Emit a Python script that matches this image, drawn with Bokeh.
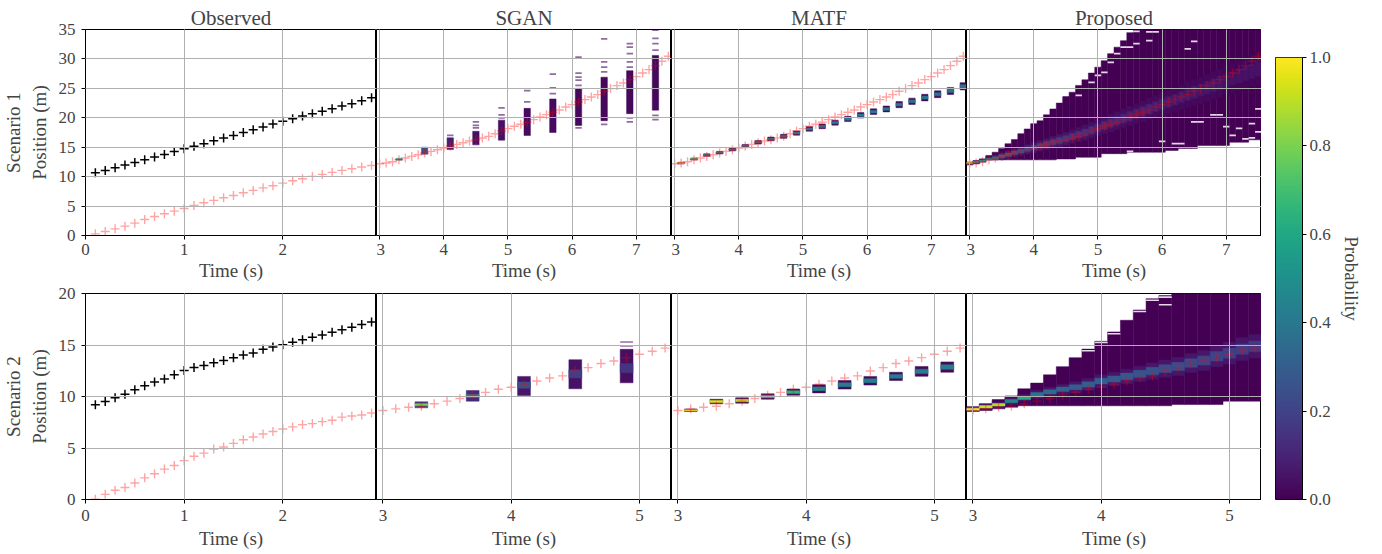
import numpy as np
from bokeh.plotting import figure
from bokeh.models import (ColumnDataSource, Range1d, FixedTicker, LinearColorMapper,
                          PrintfTickFormatter)
from bokeh.layouts import row, column
from bokeh.palettes import Viridis256
from bokeh.embed import file_html
from bokeh.resources import INLINE

FONT = "Liberation Serif"

titles = ["Observed", "SGAN", "MATF", "Proposed"]
row_labels = ["Scenario 1\nPosition (m)", "Scenario 2\nPosition (m)"]
x_label = "Time (s)"
cbar_label = "Probability"

# ---------------- time stamps ----------------
obs_t = [0.1, 0.2, 0.3, 0.4, 0.5, 0.6, 0.7, 0.8, 0.9, 1.0, 1.1, 1.2, 1.3, 1.4, 1.5,
         1.6, 1.7, 1.8, 1.9, 2.0, 2.1, 2.2, 2.3, 2.4, 2.5, 2.6, 2.7, 2.8, 2.9]
fut1_t = [3.0, 3.1, 3.2, 3.3, 3.4, 3.5, 3.6, 3.7, 3.8, 3.9, 4.0, 4.1, 4.2, 4.3, 4.4,
          4.5, 4.6, 4.7, 4.8, 4.9, 5.0, 5.1, 5.2, 5.3, 5.4, 5.5, 5.6, 5.7, 5.8, 5.9,
          6.0, 6.1, 6.2, 6.3, 6.4, 6.5, 6.6, 6.7, 6.8, 6.9, 7.0, 7.1, 7.2, 7.3, 7.4, 7.5]
fut2_t = [3.0, 3.1, 3.2, 3.3, 3.4, 3.5, 3.6, 3.7, 3.8, 3.9, 4.0, 4.1, 4.2, 4.3, 4.4,
          4.5, 4.6, 4.7, 4.8, 4.9, 5.0, 5.1, 5.2]

# ---------------- Scenario 1 ----------------
s1_agent = [10.66, 11.06, 11.51, 11.97, 12.42, 12.88, 13.33, 13.78, 14.29, 14.75, 15.15,
            15.6, 16.1, 16.56, 17.0, 17.5, 17.98, 18.43, 18.94, 19.4, 19.85, 20.3, 20.7,
            21.1, 21.55, 22.0, 22.4, 22.9, 23.4]
s1_target_obs = [0.28, 0.68, 1.13, 1.59, 2.1, 2.72, 3.23, 3.69, 4.14, 4.6, 5.1, 5.56, 5.96,
                 6.41, 6.8, 7.26, 7.66, 8.1, 8.45, 8.9, 9.3, 9.64, 10.04, 10.38, 10.72,
                 11.06, 11.34, 11.63, 11.9]
s1_target_fut = [12.2, 12.31, 12.54, 12.88, 13.16, 13.44, 13.73, 14.01, 14.29, 14.58,
                 14.86, 15.2, 15.48, 15.77, 16.05, 16.28, 16.56, 16.85, 17.3, 17.75,
                 18.15, 18.55, 18.89, 19.23, 19.68, 20.14, 20.53, 20.93, 21.33, 21.84,
                 22.24, 22.69, 23.09, 23.54, 23.94, 24.5, 24.96, 25.47, 25.92, 26.49,
                 27.0, 27.62, 28.19, 28.87, 29.6, 30.46]

# SGAN scenario 1: dense block per sample time + scattered samples
sgan1_t = [3.3, 3.7, 4.1, 4.5, 4.9, 5.3, 5.7, 6.1, 6.5, 6.9, 7.3]
sgan1_lo = [12.8, 13.8, 14.6, 15.4, 16.2, 17.0, 17.5, 18.7, 19.5, 20.7, 21.3]
sgan1_hi = [13.1, 15.0, 16.6, 17.7, 19.6, 21.6, 23.2, 25.0, 26.9, 28.0, 30.6]
sgan1_v = [0.5, 0.25, 0.08, 0.05, 0.04, 0.03, 0.03, 0.02, 0.02, 0.02, 0.02]
sgan1_out_t = [4.1, 4.5, 4.5, 4.5, 4.9, 4.9, 4.9, 5.3, 5.3, 5.7, 5.7, 5.7,
               6.1, 6.1, 6.1, 6.1, 6.1, 6.1, 6.5, 6.5, 6.5, 6.5, 6.5,
               6.9, 6.9, 6.9, 6.9, 6.9, 6.9, 6.9, 7.3, 7.3, 7.3, 7.3, 7.3, 7.3]
sgan1_out_y = [17.0, 18.3, 18.7, 19.3, 20.0, 20.5, 21.7, 22.7, 24.6, 24.1, 25.1, 27.4,
               18.3, 25.5, 26.4, 26.9, 27.6, 30.3, 18.9, 27.8, 28.6, 29.5, 33.4,
               19.3, 20.0, 28.6, 29.5, 30.9, 32.0, 32.6, 19.7, 20.4, 31.5, 32.6, 33.5, 34.9]

# MATF scenario 1
matf1_t = [3.1, 3.3, 3.5, 3.7, 3.9, 4.1, 4.3, 4.5, 4.7, 4.9, 5.1, 5.3, 5.5, 5.7, 5.9,
           6.1, 6.3, 6.5, 6.7, 6.9, 7.1, 7.3, 7.5]
matf1_c = [12.3, 13.0, 13.67, 14.07, 14.63, 15.2, 15.83, 16.4, 16.85, 17.41, 18.1, 18.55,
           19.17, 19.8, 20.42, 21.04, 21.5, 22.24, 22.8, 23.43, 24.0, 24.56, 25.35]
matf1_h = [0.15, 0.18, 0.2, 0.22, 0.25, 0.27, 0.3, 0.32, 0.34, 0.36, 0.38, 0.4, 0.42,
           0.44, 0.46, 0.48, 0.5, 0.52, 0.54, 0.56, 0.58, 0.6, 0.62]
matf1_v = [1.0, 0.75, 0.5, 0.45, 0.45, 0.45, 0.45, 0.45, 0.45, 0.42, 0.42, 0.4, 0.4,
           0.4, 0.4, 0.4, 0.4, 0.4, 0.38, 0.38, 0.38, 0.38, 0.38]

# Proposed scenario 1 (per 0.1 s column)
prop1_lo = [12.0, 12.2, 12.5, 12.85, 12.85, 12.85, 12.85, 12.85, 12.85, 12.85, 12.85,
            12.85, 12.85, 12.85, 13.0, 13.0, 13.0, 13.3, 13.3, 13.3, 13.3, 13.9, 13.9,
            13.9, 13.9, 14.15, 14.15, 14.15, 14.15, 14.15, 14.15, 14.45, 14.45, 14.8,
            14.8, 14.8, 15.3, 15.3, 15.3, 15.3, 15.3, 15.85, 15.85, 15.85, 16.25, 16.25]
prop1_hi = [12.45, 12.7, 13.0, 13.6, 14.15, 14.8, 15.6, 16.3, 17.3, 18.1, 19.0, 19.5,
            20.5, 21.5, 22.5, 23.6, 24.35, 25.5, 26.45, 27.6, 28.6, 29.7, 30.9, 32.0,
            33.1, 34.5, 35.5, 35.5, 35.5, 35.5, 35.5, 35.5, 35.5, 35.5, 35.5, 35.5, 35.5,
            35.5, 35.5, 35.5, 35.5, 35.5, 35.5, 35.5, 35.5, 35.5]
prop1_core_c = [12.3, 12.45, 12.65, 12.9, 13.15, 13.45, 13.75, 14.05, 14.35, 14.65,
                14.95, 15.25, 15.55, 15.85, 16.15, 16.45, 16.8, 17.15, 17.5, 17.9,
                18.3, 18.7, 19.1, 19.5, 19.9, 20.3, 20.7, 21.1, 21.5, 21.9,
                22.3, 22.7, 23.1, 23.5, 23.9, 24.3, 24.7, 25.1, 25.5, 25.9,
                26.3, 26.7, 27.1, 27.5, 27.9, 28.3]
prop1_core_w = [0.12, 0.15, 0.18, 0.2, 0.22, 0.25, 0.28, 0.3, 0.32, 0.35,
                0.38, 0.4, 0.42, 0.45, 0.48, 0.5, 0.52, 0.55, 0.58, 0.6,
                0.62, 0.65, 0.68, 0.7, 0.72, 0.75, 0.78, 0.8, 0.82, 0.85,
                0.88, 0.9, 0.92, 0.95, 0.98, 1.0, 1.02, 1.05, 1.08, 1.1,
                1.12, 1.15, 1.18, 1.2, 1.22, 1.25]
prop1_core_v = [0.95, 0.55, 0.5, 0.55, 0.4, 0.33, 0.3, 0.27, 0.25, 0.23,
                0.21, 0.2, 0.19, 0.18, 0.17, 0.16, 0.15, 0.14, 0.13, 0.13,
                0.12, 0.12, 0.11, 0.11, 0.1, 0.1, 0.09, 0.09, 0.09, 0.08,
                0.08, 0.08, 0.07, 0.07, 0.07, 0.07, 0.06, 0.06, 0.06, 0.06,
                0.05, 0.05, 0.05, 0.05, 0.05, 0.05]
# empty cells (gaps) inside the proposed envelope, scenario 1
prop1_gap_t = [5.5, 5.6, 5.8, 5.9, 5.8, 5.6, 5.4, 5.5, 5.3, 5.2, 5.1, 5.0, 4.9, 4.7,
               6.5, 6.4, 5.5, 6.0, 6.2, 6.3, 6.5, 6.6, 6.8, 6.9, 7.0, 7.3, 7.4, 7.5,
               7.1, 7.2, 7.4, 7.5]
prop1_gap_y = [34.7, 34.7, 34.6, 34.6, 33.1, 32.6, 32.0, 32.0, 30.9, 29.4, 27.7, 27.2,
               26.0, 23.8, 33.0, 31.7, 14.3, 16.0, 15.6, 15.6, 19.3, 19.3, 20.5, 20.5,
               18.5, 16.4, 16.6, 17.6, 17.0, 18.2, 19.0, 21.5]

# ---------------- Scenario 2 ----------------
s2_agent = [9.19, 9.51, 9.87, 10.23, 10.65, 11.04, 11.4, 11.69, 12.1, 12.53, 12.82,
            13.02, 13.28, 13.5, 13.77, 14.03, 14.22, 14.58, 14.81, 15.03, 15.26, 15.52,
            15.75, 15.97, 16.23, 16.49, 16.72, 16.98, 17.24]
s2_target_obs = [0.03, 0.5, 0.9, 1.17, 1.6, 2.1, 2.5, 2.95, 3.3, 3.77, 4.2, 4.5, 4.9,
                 5.1, 5.45, 5.8, 6.07, 6.36, 6.6, 6.85, 7.05, 7.27, 7.37, 7.56, 7.7,
                 8.0, 8.1, 8.2, 8.4]
s2_target_fut = [8.64, 8.8, 8.96, 9.06, 9.3, 9.55, 9.8, 10.13, 10.4, 10.7, 10.9, 11.2,
                 11.5, 11.8, 12.0, 12.47, 12.8, 13.2, 13.44, 13.77, 14.1, 14.4, 14.7]

sgan2_t = [3.3, 3.7, 4.1, 4.5, 4.9]
sgan2_lo = [8.9, 9.55, 10.1, 10.75, 11.33]
sgan2_hi = [9.48, 10.58, 11.95, 13.57, 14.58]
sgan2_v = [0.15, 0.12, 0.06, 0.05, 0.04]
sgan2_core_lo = [9.1, 9.9, 10.8, 11.8, 12.3]
sgan2_core_hi = [9.3, 10.2, 11.4, 12.6, 13.2]
sgan2_core_v = [0.8, 0.45, 0.25, 0.18, 0.15]
sgan2_out_t = [4.9, 4.9]
sgan2_out_y = [14.9, 15.3]

matf2_t = [3.1, 3.3, 3.5, 3.7, 3.9, 4.1, 4.3, 4.5, 4.7, 4.9, 5.1]
matf2_c = [8.67, 9.51, 9.61, 10.0, 10.42, 10.75, 11.14, 11.53, 11.95, 12.44, 12.86]
matf2_h = [0.12, 0.22, 0.26, 0.26, 0.3, 0.4, 0.42, 0.42, 0.4, 0.48, 0.5]
matf2_v = [1.0, 0.95, 0.9, 0.7, 0.65, 0.45, 0.42, 0.42, 0.42, 0.42, 0.42]

prop2_lo = [8.57, 8.64, 8.8, 8.96, 9.1, 9.1, 9.1, 9.1, 9.1, 9.1, 9.1, 9.1, 9.1, 9.1,
            9.1, 9.1, 9.22, 9.22, 9.22, 9.22, 9.55, 9.55, 9.55]
prop2_hi = [9.0, 9.3, 9.7, 10.06, 10.75, 11.3, 12.1, 12.9, 13.77, 14.6, 15.36, 16.27,
            17.4, 18.4, 19.5, 19.8, 20.5, 20.5, 20.5, 20.5, 20.5, 20.5, 20.5]
prop2_core_c = [8.77, 9.0, 9.2, 9.55, 9.87, 10.2, 10.45, 10.7, 10.9, 11.17, 11.5, 11.7,
                11.95, 12.2, 12.47, 12.7, 12.92, 13.25, 13.5, 13.9, 14.2, 14.6, 14.87]
prop2_core_w = [0.1, 0.12, 0.12, 0.15, 0.15, 0.18, 0.2, 0.22, 0.24, 0.26, 0.28, 0.3,
                0.32, 0.34, 0.36, 0.38, 0.4, 0.42, 0.44, 0.46, 0.48, 0.5, 0.52]
prop2_core_v = [1.0, 0.92, 0.88, 0.45, 0.62, 0.38, 0.35, 0.32, 0.3, 0.3, 0.3, 0.28,
                0.27, 0.26, 0.25, 0.24, 0.23, 0.22, 0.21, 0.2, 0.19, 0.18, 0.17]
prop2_gap_t = [3.9, 4.0, 4.1, 4.3, 4.4, 4.5, 4.5]
prop2_gap_y = [14.45, 15.25, 16.1, 18.25, 19.35, 19.65, 18.9]

# ---------------- axes setup ----------------
obs_xrange = (0, 2.95)
fut_xrange = [(2.95, 7.55), (2.95, 5.25)]
y_ranges = [(0, 35), (0, 20)]
y_ticks = [[0, 5, 10, 15, 20, 25, 30, 35], [0, 5, 10, 15, 20]]
obs_xticks = [0, 1, 2]
fut_xticks = [[3, 4, 5, 6, 7], [3, 4, 5]]

CW = 0.1  # column width (s)
mapper = LinearColorMapper(palette=Viridis256, low=0, high=1)
cmap = {"field": "v", "transform": mapper}

GRID = "#b0b0b0"
LEFT_B = 80
FRAME_W = 295
TOP_B = [29, 8]
BOT_B = [50, 53]
FRAME_H = 206
X_STANDOFF = [(4, 2), (6, 4)]


def base_fig(r, c):
    first = c == 0
    xr = obs_xrange if first else fut_xrange[r]
    xt = obs_xticks if first else fut_xticks[r]
    lb = LEFT_B if first else 0
    fw = FRAME_W + (1 if first else 0)
    p = figure(
        width=lb + fw, height=TOP_B[r] + FRAME_H + BOT_B[r],
        x_range=Range1d(*xr), y_range=Range1d(*y_ranges[r]),
        output_backend="svg", toolbar_location=None,
        min_border_left=lb, min_border_right=0,
        min_border_top=TOP_B[r], min_border_bottom=BOT_B[r],
        background_fill_color="white", border_fill_color="white",
    )
    p.outline_line_color = "black"
    p.outline_line_width = 1
    p.outline_line_alpha = 1
    if r == 0:
        p.title.text = titles[c]
        p.title.align = "center"
        p.title.text_font = FONT
        p.title.text_font_size = "21px"
        p.title.text_font_style = "normal"
        p.title.standoff = 0
        p.title.offset = 0
    p.xaxis.ticker = FixedTicker(ticks=xt)
    p.yaxis.ticker = FixedTicker(ticks=y_ticks[r])
    p.xgrid.ticker = FixedTicker(ticks=xt)
    p.ygrid.ticker = FixedTicker(ticks=y_ticks[r])
    for ax in [p.xaxis[0], p.yaxis[0]]:
        ax.major_label_text_font = FONT
        ax.major_label_text_font_size = "17px"
        ax.axis_label_text_font = FONT
        ax.axis_label_text_font_size = "19px"
        ax.axis_label_text_font_style = "normal"
        ax.major_tick_out = 4
        ax.major_tick_in = 0
        ax.minor_tick_line_color = None
        ax.axis_line_color = "black"
        ax.major_tick_line_color = "black"
    p.xaxis.major_label_standoff = X_STANDOFF[r][0]
    p.xaxis.axis_label_standoff = X_STANDOFF[r][1]
    p.yaxis.major_label_standoff = 6
    p.yaxis.axis_label_standoff = 6
    p.xaxis.axis_label = x_label
    if first:
        p.yaxis.axis_label = row_labels[r]
    else:
        p.yaxis.visible = False
    p.grid.grid_line_color = GRID
    p.grid.grid_line_width = 1
    p.grid.level = "guide"
    return p


def red_crosses(p, t, y):
    p.scatter(t, y, marker="cross", size=9, line_color="red", line_alpha=0.36,
              line_width=1.4)


def quads(p, t, lo, hi, v, alpha=1.0, seam=True):
    src = ColumnDataSource(dict(
        left=[a - CW / 2 for a in t], right=[a + CW / 2 for a in t],
        bottom=list(lo), top=list(hi), v=list(v)))
    p.quad(left="left", right="right", bottom="bottom", top="top", source=src,
           fill_color=cmap, fill_alpha=alpha,
           line_color=cmap if seam else None, line_alpha=alpha, line_width=0.5)


def gaps(p, t, y, bar):
    src = ColumnDataSource(dict(
        left=[a - CW / 2 for a in t], right=[a + CW / 2 for a in t],
        bottom=[a - bar / 2 for a in y], top=[a + bar / 2 for a in y]))
    p.quad(left="left", right="right", bottom="bottom", top="top", source=src,
           fill_color="white", fill_alpha=0.85, line_color=None)


def draw_observed(p, agent, target):
    p.scatter(obs_t, agent, marker="cross", size=9, line_color="black", line_width=1.5)
    red_crosses(p, obs_t, target)


def draw_sgan(p, t, lo, hi, v, out_t, out_y, bar, core=None):
    quads(p, t, lo, hi, v)
    if core is not None:
        quads(p, t, core[0], core[1], core[2])
    quads(p, out_t, [y - bar / 2 for y in out_y], [y + bar / 2 for y in out_y],
          [0.03] * len(out_y), alpha=0.6, seam=False)


def draw_matf(p, t, c, h, v):
    quads(p, t, [a - b for a, b in zip(c, h)], [a + b for a, b in zip(c, h)],
          [0.02] * len(t))
    quads(p, t, [a - 0.45 * b for a, b in zip(c, h)], [a + 0.45 * b for a, b in zip(c, h)], v)


def draw_prop(p, t, lo, hi, cc, cw, cv, gap_t, gap_y, bar):
    quads(p, t, lo, hi, [0.0] * len(t))
    gaps(p, gap_t, gap_y, bar)
    halo_lo = [max(l, a - 2.2 * w) for l, a, w in zip(lo, cc, cw)]
    halo_hi = [min(h, a + 2.2 * w) for h, a, w in zip(hi, cc, cw)]
    quads(p, t, halo_lo, halo_hi, [min(0.06, x / 3) for x in cv])
    core_lo = [max(l, a - w) for l, a, w in zip(lo, cc, cw)]
    core_hi = [min(h, a + w) for h, a, w in zip(hi, cc, cw)]
    quads(p, t, core_lo, core_hi, cv)


# Scenario 1
p11 = base_fig(0, 0); draw_observed(p11, s1_agent, s1_target_obs)
p12 = base_fig(0, 1); draw_sgan(p12, sgan1_t, sgan1_lo, sgan1_hi, sgan1_v, sgan1_out_t, sgan1_out_y, 0.3)
red_crosses(p12, fut1_t, s1_target_fut)
p13 = base_fig(0, 2); draw_matf(p13, matf1_t, matf1_c, matf1_h, matf1_v)
red_crosses(p13, fut1_t, s1_target_fut)
p14 = base_fig(0, 3); draw_prop(p14, fut1_t, prop1_lo, prop1_hi, prop1_core_c, prop1_core_w,
                                prop1_core_v, prop1_gap_t, prop1_gap_y, 0.3)
red_crosses(p14, fut1_t, s1_target_fut)
# Scenario 2
p21 = base_fig(1, 0); draw_observed(p21, s2_agent, s2_target_obs)
p22 = base_fig(1, 1); draw_sgan(p22, sgan2_t, sgan2_lo, sgan2_hi, sgan2_v, sgan2_out_t, sgan2_out_y, 0.15,
                                core=(sgan2_core_lo, sgan2_core_hi, sgan2_core_v))
red_crosses(p22, fut2_t, s2_target_fut)
p23 = base_fig(1, 2); draw_matf(p23, matf2_t, matf2_c, matf2_h, matf2_v)
red_crosses(p23, fut2_t, s2_target_fut)
p24 = base_fig(1, 3); draw_prop(p24, fut2_t, prop2_lo, prop2_hi, prop2_core_c, prop2_core_w,
                                prop2_core_v, prop2_gap_t, prop2_gap_y, 0.15)
red_crosses(p24, fut2_t, s2_target_fut)

# ---------------- colour bar ----------------
CB_TOP, CB_H, CB_BOT = 57, 442, 50
cb = figure(width=14 + 27 + 70, height=CB_TOP + CB_H + CB_BOT,
            x_range=Range1d(0, 1), y_range=Range1d(0, 1),
            output_backend="svg", toolbar_location=None, y_axis_location="right",
            min_border_left=14, min_border_right=70, min_border_top=CB_TOP,
            min_border_bottom=CB_BOT)
cb.image(image=[np.linspace(0, 1, 256).reshape(256, 1)], x=0, y=0, dw=1, dh=1,
         color_mapper=mapper)
cb.xaxis.visible = False
cb.grid.visible = False
cb.outline_line_color = "black"
cb.outline_line_alpha = 1
ax = cb.yaxis[0]
ax.ticker = FixedTicker(ticks=[0, 0.2, 0.4, 0.6, 0.8, 1.0])
ax.formatter = PrintfTickFormatter(format="%.1f")
ax.major_label_text_font = FONT
ax.major_label_text_font_size = "17px"
ax.axis_label = cbar_label
ax.axis_label_text_font = FONT
ax.axis_label_text_font_size = "19px"
ax.axis_label_text_font_style = "normal"
ax.major_tick_out = 4
ax.major_tick_in = 0
ax.minor_tick_line_color = None
ax.axis_line_color = "black"
ax.major_label_standoff = 3
ax.axis_label_standoff = 7

layout = row(column(row(p11, p12, p13, p14), row(p21, p22, p23, p24)), cb)

open("out.html", "w").write(file_html(layout, INLINE))
